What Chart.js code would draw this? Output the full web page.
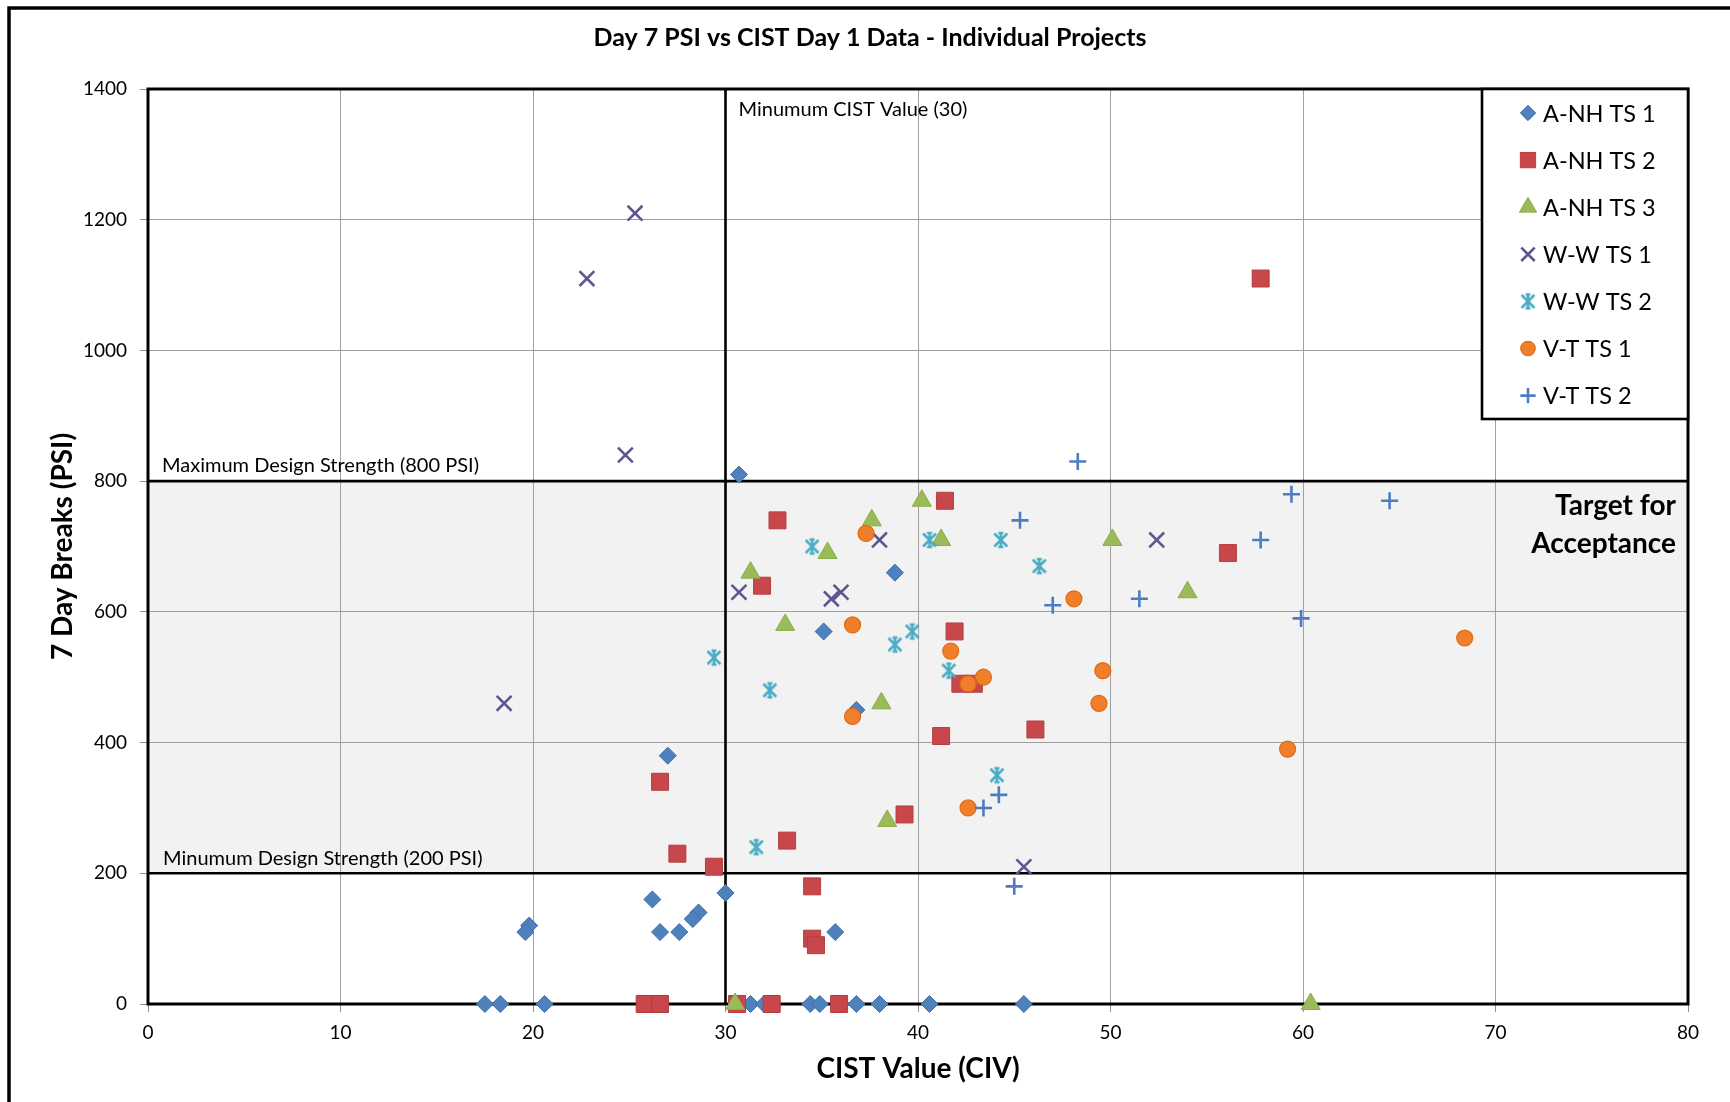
<!DOCTYPE html>
<html>
<head>
<meta charset="utf-8">
<title>Day 7 PSI vs CIST Day 1 Data - Individual Projects</title>
<script src="https://cdn.jsdelivr.net/npm/chart.js@4.4.1/dist/chart.umd.min.js"></script>
<style>
  html, body { margin: 0; padding: 0; background: #fff; }
  #wrap { width: 1730px; height: 1102px; }
</style>
</head>
<body>
<div id="wrap"><canvas id="chart" width="1730" height="1102"></canvas></div>
<script>
// Data: CIST value (x) and 7 day break PSI (y) for each project series
const seriesNames = ['A-NH TS 1', 'A-NH TS 2', 'A-NH TS 3', 'W-W TS 1', 'W-W TS 2', 'V-T TS 1', 'V-T TS 2'];

const anh1X = [30.7, 38.8, 35.1, 36.8, 27.0, 30.0, 26.2, 28.6, 28.3, 19.8, 19.6, 26.6, 27.6, 35.7, 17.5, 18.3, 20.6, 31.3, 32.0, 34.4, 34.9, 36.8, 38.0, 40.6, 45.5];
const anh1Y = [810, 660, 570, 450, 380, 170, 160, 140, 130, 120, 110, 110, 110, 110, 0, 0, 0, 0, 0, 0, 0, 0, 0, 0, 0];

const anh2X = [57.8, 41.4, 32.7, 31.9, 41.9, 42.2, 42.9, 41.2, 46.1, 56.1, 39.3, 33.2, 27.5, 29.4, 26.6, 34.5, 34.5, 34.7, 25.8, 26.6, 30.6, 32.4, 35.9];
const anh2Y = [1110, 770, 740, 640, 570, 490, 490, 410, 420, 690, 290, 250, 230, 210, 340, 180, 100, 90, 0, 0, 0, 0, 0];

const anh3X = [40.2, 37.6, 35.3, 41.2, 50.1, 31.3, 54.0, 33.1, 38.1, 38.4, 30.5, 60.4];
const anh3Y = [770, 740, 690, 710, 710, 660, 630, 580, 460, 280, 0, 0];

const ww1X = [25.3, 22.8, 24.8, 18.5, 38.0, 30.7, 35.5, 36.0, 52.4, 45.5];
const ww1Y = [1210, 1110, 840, 460, 710, 630, 620, 630, 710, 210];

const ww2X = [34.5, 40.6, 44.3, 46.3, 39.7, 38.8, 29.4, 41.6, 32.3, 44.1, 31.6];
const ww2Y = [700, 710, 710, 670, 570, 550, 530, 510, 480, 350, 240];

const vt1X = [37.3, 36.6, 36.6, 41.7, 42.6, 43.4, 42.6, 48.1, 49.6, 49.4, 59.2, 68.4];
const vt1Y = [720, 580, 440, 540, 490, 500, 300, 620, 510, 460, 390, 560];

const vt2X = [48.3, 45.3, 47.0, 51.5, 44.2, 43.4, 45.0, 59.4, 64.5, 57.8, 59.9];
const vt2Y = [830, 740, 610, 620, 320, 300, 180, 780, 770, 710, 590];

const xTicks = [0, 10, 20, 30, 40, 50, 60, 70, 80];
const yTicks = [0, 200, 400, 600, 800, 1000, 1200, 1400];

// Reference limits
const minCist = 30;
const minDesign = 200;
const maxDesign = 800;

const seriesX = [anh1X, anh2X, anh3X, ww1X, ww2X, vt1X, vt2X];
const seriesY = [anh1Y, anh2Y, anh3Y, ww1Y, ww2Y, vt1Y, vt2Y];

// Excel style asterisk marker (X with a vertical stroke)
function asteriskMarker(color) {
  const c = document.createElement('canvas');
  c.width = 22; c.height = 22;
  const g = c.getContext('2d');
  g.strokeStyle = color;
  g.lineWidth = 2.6;
  const m = 11, r = 8, d = 6.5;
  g.beginPath();
  g.moveTo(m - d, m - d); g.lineTo(m + d, m + d);
  g.moveTo(m + d, m - d); g.lineTo(m - d, m + d);
  g.moveTo(m, m - r); g.lineTo(m, m + r);
  g.moveTo(m - 2.5, m - r + 1); g.lineTo(m + 2.5, m - r + 1);
  g.moveTo(m - 2.5, m + r - 1); g.lineTo(m + 2.5, m + r - 1);
  g.stroke();
  return c;
}

const markerStyles = [
  { pointStyle: 'rectRot', radius: 8.5, backgroundColor: '#4F81BD', borderColor: '#3D6EA8', borderWidth: 1 },
  { pointStyle: 'rect', radius: 12, backgroundColor: '#C8474A', borderColor: '#B53E40', borderWidth: 1 },
  { pointStyle: 'triangle', radius: 11, backgroundColor: '#9BBB59', borderColor: '#8CAD4A', borderWidth: 1 },
  { pointStyle: 'crossRot', radius: 10.5, backgroundColor: '#5E578F', borderColor: '#5E578F', borderWidth: 2.6 },
  { pointStyle: asteriskMarker('#4BACC6'), radius: 9, backgroundColor: '#4BACC6', borderColor: '#4BACC6', borderWidth: 2.6 },
  { pointStyle: 'circle', radius: 8, backgroundColor: '#F07F2C', borderColor: '#E06A12', borderWidth: 1.2 },
  { pointStyle: 'cross', radius: 8.5, backgroundColor: '#4D7DC0', borderColor: '#4D7DC0', borderWidth: 2.6 }
];

const FONT = 'Lato, "Open Sans", sans-serif';
Chart.defaults.font.family = FONT;
Chart.defaults.color = '#000';

const datasets = seriesNames.map((name, i) => ({
  label: name,
  data: seriesX[i].map((x, j) => ({ x: x, y: seriesY[i][j] })),
  pointStyle: markerStyles[i].pointStyle,
  pointRadius: markerStyles[i].radius,
  pointBackgroundColor: markerStyles[i].backgroundColor,
  pointBorderColor: markerStyles[i].borderColor,
  pointBorderWidth: markerStyles[i].borderWidth,
  showLine: false,
  clip: false,
  order: seriesNames.length - i
}));

const overlayPlugin = {
  id: 'overlay',
  beforeDraw(chart) {
    const { ctx, chartArea: a, scales: { y } } = chart;
    ctx.save();
    ctx.fillStyle = '#fff';
    ctx.fillRect(0, 0, chart.width, chart.height);
    // target band between design strengths
    const top = y.getPixelForValue(maxDesign);
    const bot = y.getPixelForValue(minDesign);
    ctx.fillStyle = '#F2F2F2';
    ctx.fillRect(a.left, top, a.right - a.left, bot - top);
    ctx.restore();
  },
  beforeDatasetsDraw(chart) {
    const { ctx, chartArea: a, scales: { x, y } } = chart;
    ctx.save();
    ctx.strokeStyle = '#000';
    ctx.lineWidth = 2.6;
    ctx.beginPath();
    const xc = x.getPixelForValue(minCist);
    ctx.moveTo(xc, a.top); ctx.lineTo(xc, a.bottom);
    [minDesign, maxDesign].forEach(v => {
      const py = y.getPixelForValue(v);
      ctx.moveTo(a.left, py); ctx.lineTo(a.right, py);
    });
    ctx.stroke();

    // plot border
    ctx.lineWidth = 3;
    ctx.strokeRect(a.left, a.top, a.right - a.left, a.bottom - a.top);

    // annotation labels
    ctx.fillStyle = '#000';
    ctx.textBaseline = 'middle';
    ctx.textAlign = 'left';
    ctx.font = '20px ' + FONT;
    ctx.fillText('Minumum CIST Value (30)', xc + 13, a.top + 21);
    ctx.fillText('Maximum Design Strength (800 PSI)', a.left + 14, y.getPixelForValue(maxDesign) - 16);
    ctx.fillText('Minumum Design Strength (200 PSI)', a.left + 15, y.getPixelForValue(minDesign) - 15);

    ctx.textAlign = 'right';
    ctx.font = 'bold 28px ' + FONT;
    ctx.fillText('Target for', a.right - 12, y.getPixelForValue(maxDesign) + 25);
    ctx.fillText('Acceptance', a.right - 12, y.getPixelForValue(maxDesign) + 63);
    ctx.restore();
  },
  afterDraw(chart) {
    const { ctx, chartArea: a } = chart;
    ctx.save();

    // legend box inside plot, top right
    const boxL = 1482, boxB = 419;
    ctx.fillStyle = '#fff';
    ctx.fillRect(boxL, a.top, a.right - boxL, boxB - a.top);
    ctx.strokeStyle = '#000';
    ctx.lineWidth = 2.6;
    ctx.strokeRect(boxL, a.top, a.right - boxL, boxB - a.top);

    ctx.font = '23.5px ' + FONT;
    ctx.textAlign = 'left';
    ctx.textBaseline = 'middle';
    seriesNames.forEach((name, i) => {
      const cy = a.top + 24 + i * 47.1;
      const st = markerStyles[i];
      ctx.fillStyle = st.backgroundColor;
      ctx.strokeStyle = st.borderColor;
      ctx.lineWidth = st.borderWidth;
      Chart.helpers.drawPoint(ctx, { pointStyle: st.pointStyle, radius: st.radius * 0.9, borderWidth: st.borderWidth, rotation: 0 }, 1528, cy);
      ctx.fillStyle = '#000';
      ctx.fillText(name, 1543, cy + 1);
    });

    // chart title
    ctx.font = 'bold 25px ' + FONT;
    ctx.textAlign = 'center';
    ctx.fillText('Day 7 PSI vs CIST Day 1 Data - Individual Projects', 870, 38);

    // outer chart frame
    ctx.strokeStyle = '#000';
    ctx.lineWidth = 3.5;
    ctx.beginPath();
    ctx.moveTo(9, chart.height); ctx.lineTo(9, 8); ctx.lineTo(chart.width, 8);
    ctx.stroke();
    ctx.restore();
  }
};

new Chart(document.getElementById('chart'), {
  type: 'scatter',
  data: { datasets: datasets },
  plugins: [overlayPlugin],
  options: {
    responsive: false,
    animation: false,
    events: [],
    layout: { padding: { top: 89, left: 20, right: 42, bottom: 0 } },
    plugins: {
      legend: { display: false },
      title: { display: false },
      tooltip: { enabled: false }
    },
    scales: {
      x: {
        type: 'linear',
        min: xTicks[0],
        max: xTicks[xTicks.length - 1],
        afterBuildTicks: s => { s.ticks = xTicks.map(v => ({ value: v })); },
        afterFit: s => { s.height = 98; },
        grid: { color: '#A0A0A0', lineWidth: 1, tickLength: 8, tickColor: '#8C8C8C' },
        border: { display: false },
        ticks: { font: { size: 19 }, padding: 9, maxRotation: 0, callback: v => String(v) },
        title: {
          display: true,
          text: 'CIST Value (CIV)',
          font: { size: 28, weight: 'bold' },
          padding: { top: 0, bottom: 16 }
        }
      },
      y: {
        type: 'linear',
        min: yTicks[0],
        max: yTicks[yTicks.length - 1],
        afterBuildTicks: s => { s.ticks = yTicks.map(v => ({ value: v })); },
        afterFit: s => { s.width = 128; },
        grid: { color: '#A0A0A0', lineWidth: 1, tickLength: 8, tickColor: '#8C8C8C' },
        border: { display: false },
        ticks: { font: { size: 19 }, padding: 13, callback: v => String(v) },
        title: {
          display: true,
          text: '7 Day Breaks (PSI)',
          font: { size: 28, weight: 'bold' },
          padding: { top: 26, bottom: 0 }
        }
      }
    }
  }
});
</script>
</body>
</html>
